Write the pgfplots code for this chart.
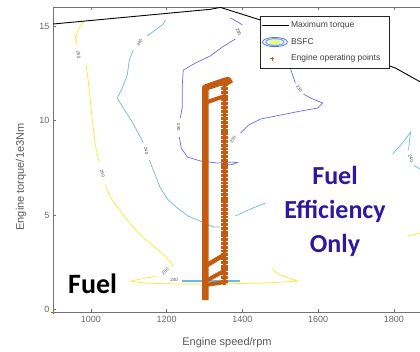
\documentclass[border=0pt]{standalone}
\usepackage{pgfplots}
\pgfplotsset{compat=1.18}
\usepackage{fontspec}
\setmainfont{Liberation Sans}
\newfontfamily\calibri{Carlito}
\definecolor{yelc}{RGB}{238,238,50}
\definecolor{cyac}{RGB}{105,185,225}
\definecolor{bluc}{RGB}{105,105,235}
\definecolor{orc}{RGB}{197,90,17}
\definecolor{fblue}{RGB}{46,24,158}
\definecolor{bsfy}{RGB}{240,245,140}
\tikzset{clab/.style={font=\fontsize{4.5}{5}\selectfont, text=black!70, inner sep=0pt}}
\begin{document}
\begin{tikzpicture}
\begin{axis}[
  at={(53pt,38.6pt)}, anchor=south west,
  scale only axis, width=416.7pt, height=305pt,
  xmin=900, xmax=2000, ymin=-0.15, ymax=16,
  xtick={1000,1200,1400,1600,1800}, ytick={0,5,10,15},
  tick align=inside, major tick length=3pt,
  axis line style={black!55, line width=0.6pt},
  every tick/.style={black!55, line width=0.5pt},
  ticklabel style={font=\fontsize{9}{10}\selectfont, text=black!60},
  /pgf/number format/assume math mode=true,
  /pgf/number format/1000 sep={},
  xlabel={Engine speed/rpm}, ylabel={Engine torque/1e3Nm},
  label style={font=\fontsize{11}{12}\selectfont, text=black!65},
  xlabel style={at={(rel axis cs:0.4176,-0.1003)}, anchor=center},
  ylabel style={at={(rel axis cs:-0.0768,0.444)}, anchor=center},
  legend style={at={(rel axis cs:0.4968,0.9718)}, anchor=north west,
    draw=black!85, line width=0.6pt, fill=white,
    font=\fontsize{8.5}{9}\selectfont, text=black!75,
    inner xsep=1pt, inner ysep=1pt, row sep=0pt,
    nodes={inner sep=1.5pt, minimum height=16.5pt}},
  legend cell align=left,
]
\addlegendimage{legend image code/.code={\draw[black, line width=1.2pt] (0pt,0pt) -- (27pt,0pt);}}
\addlegendimage{legend image code/.code={
  \draw[draw=none] (0pt,0pt) -- (27pt,0pt);
  \fill[bsfy] (13pt,0pt) ellipse (6pt and 2.4pt);
  \draw[cyac, line width=1.2pt] (13pt,0pt) ellipse (9pt and 3.4pt);
  \draw[bluc, line width=0.8pt] (13pt,0pt) ellipse (12.5pt and 4.6pt);}}
\addlegendimage{legend image code/.code={
  \draw[draw=none] (0pt,0pt) -- (27pt,0pt);
  \draw[orc, line width=0.6pt] (10pt,-2pt) -- (10pt,2pt) (8pt,0pt) -- (12pt,0pt);}}

% yellow contour
\addplot[yelc, line width=0.7pt, forget plot] coordinates {(979.9,15.25) (969.4,14.91) (958.8,14.43) (964.1,14.01)};
\addplot[yelc, line width=0.7pt, forget plot] coordinates {(987.9,12.95) (995.8,11.63) (1003.7,10.04) (1011.6,8.71) (1022.2,7.76)};
\addplot[yelc, line width=0.7pt, forget plot] coordinates {(1038,6.6) (1051.2,5.96) (1069.7,5.43) (1096.1,4.74) (1122.5,4.1) (1148.9,3.63) (1175.3,3.2) (1196.4,2.83) (1209.6,2.52) (1217.5,2.3)};
\addplot[yelc, line width=0.7pt, forget plot] coordinates {(1175.3,1.77) (1140,1.65) (1104,1.51) (1143.6,1.40) (1236,1.35) (1315,1.35) (1448,1.40) (1513,1.46) (1545,1.51) (1527,1.64) (1500,1.83) (1484.6,2.04) (1479,2.2)};
\addplot[yelc, line width=0.7pt, forget plot] coordinates {(1835.3,3.89) (1869.6,4.05) (1922,4.16)};
% cyan contour
\addplot[cyac, line width=0.7pt, forget plot] coordinates {(1196.7,15.33) (1191.1,15.12) (1170,14.8) (1148.9,14.49)};
\addplot[cyac, line width=0.7pt, forget plot] coordinates {(1111.9,13.75) (1101.4,13.21) (1096.1,12.42) (1082.9,11.73) (1069.7,11.2) (1085.5,10.67) (1109.3,9.93) (1127.8,9.24) (1138.3,8.82)};
\addplot[cyac, line width=0.7pt, forget plot] coordinates {(1154.2,7.92) (1170,7.12) (1183.2,6.44) (1204.4,5.8) (1228.1,5.38) (1257.1,4.95) (1288.8,4.69) (1323.1,4.37) (1341.6,4.37)};
\addplot[cyac, line width=0.7pt, forget plot] coordinates {(1381.2,4.95) (1420.8,5.32) (1460.4,5.64)};
\addplot[cyac, line width=1.2pt, forget plot] coordinates {(1241.8,1.51) (1394.5,1.51)};
\addplot[cyac, line width=0.7pt, forget plot] coordinates {(1796.4,8.24) (1822.8,8.82) (1843.9,9.4) (1841.2,8.98) (1838.6,8.45)};
\addplot[cyac, line width=0.7pt, forget plot] coordinates {(1851.8,7.65) (1872.9,7.39) (1900,7.3)};
% blue contour
\addplot[bluc, line width=0.7pt, forget plot] coordinates {(1368.7,15.44) (1387.2,15.23) (1400.4,15.07)};
\addplot[bluc, line width=0.7pt, forget plot] coordinates {(1381.2,14.33) (1346.9,13.9) (1315.2,13.43) (1275.6,13.05) (1243.9,12.68) (1241.3,11.89) (1241.3,10.72) (1236,10.14)};
\addplot[bluc, line width=0.7pt, forget plot] coordinates {(1233.4,9.14) (1238.6,8.55) (1254.5,8.08) (1288.8,7.87) (1333.7,7.76) (1373.3,7.81) (1386.5,7.79) (1373.3,7.68) (1346.9,7.65)};
\addplot[bluc, line width=0.7pt, forget plot] coordinates {(1526.4,12.79) (1539.6,12.0)};
\addplot[bluc, line width=0.7pt, forget plot] coordinates {(1561.4,11.41) (1579.9,11.2) (1611.6,10.94) (1598.4,10.67) (1553.5,10.51) (1500.7,10.3) (1447.9,10.09) (1416.2,9.77) (1395.1,9.35)};
\addplot[bluc, line width=0.7pt, forget plot] coordinates {(1355.5,8.66) (1342.3,8.5)};
% contour labels
\node[clab, rotate=-80] at (axis cs:967.3,13.5) {250};
\node[clab, rotate=-70] at (axis cs:1030.6,7.2) {250};
\node[clab, rotate=45] at (axis cs:1196.4,2.02) {250};
\node[clab, rotate=60] at (axis cs:1129,14.12) {240};
\node[clab, rotate=-80] at (axis cs:1146,8.4) {240};
\node[clab] at (axis cs:1220,1.55) {240};
\node[clab, rotate=-70] at (axis cs:1845,8.0) {240};
\node[clab, rotate=-65] at (axis cs:1390,14.7) {230};
\node[clab, rotate=-90] at (axis cs:1232,9.65) {230};
\node[clab, rotate=-55] at (axis cs:1550,11.7) {230};
\node[clab, rotate=55] at (axis cs:1375,9.0) {230};
% maximum torque
\addplot[black, line width=0.9pt, forget plot] coordinates {(900,15.12) (1316,15.9) (1342,16.0) (1448,15.33) (1804,12.79) (1870,12.05) (1936,11.3)};
% engine operating points
\addplot[orc, line width=6.5pt, line join=round, forget plot] coordinates {(1302,0.5) (1302,11.75) (1352,12.1) (1362,12.15) (1368,11.95)};
\addplot[orc, line width=4pt, forget plot] coordinates {(1302,10.95) (1352,11.3)};
\addplot[orc, line width=4.5pt, forget plot] coordinates {(1302,2.3) (1352,2.9)};
\addplot[orc, line width=4pt, forget plot] coordinates {(1302,1.5) (1352,2.05)};
\addplot[orc, line width=4pt, forget plot] coordinates {(1302,1.3) (1352,1.45)};
\addplot[orc, only marks, mark=+, mark size=3.3pt, line width=2.9pt, forget plot] coordinates {
(1352,1.5) (1352,1.7) (1352,1.9) (1352,2.1) (1352,2.3) (1352,2.5) (1352,2.7) (1352,2.9) (1352,3.1) (1352,3.3)
(1352,3.5) (1352,3.7) (1352,3.9) (1352,4.1) (1352,4.3) (1352,4.5) (1352,4.7) (1352,4.9) (1352,5.1) (1352,5.3)
(1352,5.5) (1352,5.7) (1352,5.9) (1352,6.1) (1352,6.3) (1352,6.5) (1352,6.7) (1352,6.9) (1352,7.1) (1352,7.3)
(1352,7.5) (1352,7.7) (1352,7.9) (1352,8.1) (1352,8.3) (1352,8.5) (1352,8.7) (1352,8.9) (1352,9.1) (1352,9.3)
(1352,9.5) (1352,9.7) (1352,9.9) (1352,10.1) (1352,10.3) (1352,10.5) (1352,10.7) (1352,10.9) (1352,11.1) (1352,11.3)
(1352,11.5) (1352,11.7) (1352,11.9)};
\addplot[orc, only marks, mark=+, mark size=2pt, line width=0.6pt, forget plot] coordinates {(900,-0.15)};
\legend{\makebox[96pt][l]{Maximum torque}, BSFC, Engine operating points}
\end{axis}
\pgfresetboundingbox
\useasboundingbox (0,0) rectangle (420pt,351pt);
\node[anchor=base west, inner sep=0pt, font=\calibri\bfseries\fontsize{28}{30}\selectfont, text=black] at (68pt,58pt) {Fuel};
\node[anchor=base, inner sep=0pt, font=\calibri\bfseries\fontsize{26}{30}\selectfont, text=fblue] at (335pt,166pt) {Fuel};
\node[anchor=base, inner sep=0pt, font=\calibri\bfseries\fontsize{26}{30}\selectfont, text=fblue] at (335pt,132pt) {Efficiency};
\node[anchor=base, inner sep=0pt, font=\calibri\bfseries\fontsize{26}{30}\selectfont, text=fblue] at (335pt,99pt) {Only};
\end{tikzpicture}
\end{document}
